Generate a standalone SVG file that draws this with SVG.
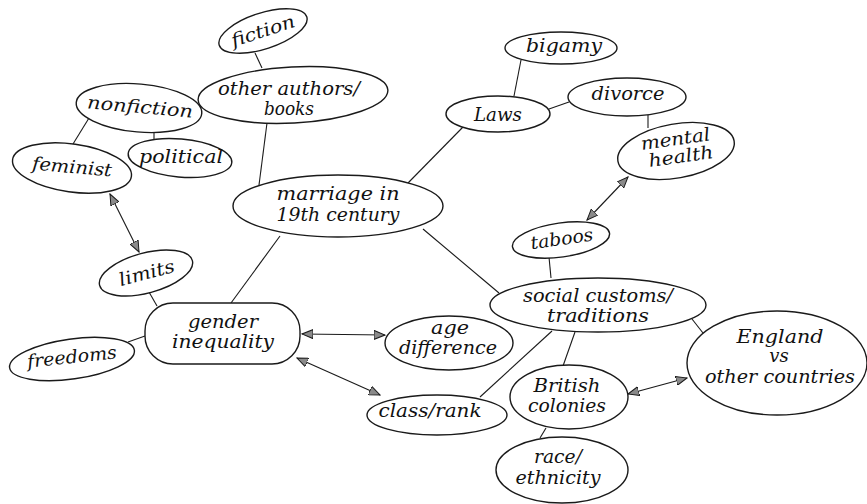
<svg xmlns="http://www.w3.org/2000/svg" width="867" height="504" viewBox="0 0 867 504">
<defs>
<style>
.n{fill:#fff;stroke:#1a1a1a;stroke-width:1.4}
.t{font-family:"DejaVu Serif","Liberation Serif",serif;font-style:italic;font-size:18px;fill:#111;text-anchor:middle}
.c{stroke:#1a1a1a;stroke-width:1.1;fill:none}
.a{marker-start:url(#ah);marker-end:url(#ah)}
</style>
<marker id="ah" viewBox="0 0 12 10" refX="11" refY="5" markerWidth="12" markerHeight="10" markerUnits="userSpaceOnUse" orient="auto-start-reverse">
<path d="M0,0.5 L11,5 L0,9.5 Z" fill="#8a8a8a" stroke="#1a1a1a" stroke-width="1"/>
</marker>
</defs>
<rect width="867" height="504" fill="#fff"/>
<g id="connectors">
<line class="c" x1="255" y1="53" x2="262" y2="68"/>
<line class="c" x1="267" y1="123" x2="259" y2="185"/>
<line class="c" x1="89" y1="118" x2="73" y2="144"/>
<line class="c" x1="154" y1="132" x2="154" y2="140"/>
<line class="c" x1="521" y1="60" x2="514" y2="96"/>
<line class="c" x1="549" y1="109" x2="569" y2="102"/>
<line class="c" x1="463" y1="127" x2="408" y2="183"/>
<line class="c" x1="648" y1="115" x2="648" y2="128"/>
<line class="c a" x1="587" y1="220" x2="628" y2="177"/>
<line class="c" x1="549" y1="257" x2="551" y2="278"/>
<line class="c" x1="423" y1="229" x2="499" y2="293"/>
<line class="c" x1="280" y1="236" x2="231" y2="303"/>
<line class="c a" x1="110" y1="194" x2="139" y2="252"/>
<line class="c" x1="149" y1="292" x2="157" y2="306"/>
<line class="c" x1="128" y1="342" x2="145" y2="336"/>
<line class="c a" x1="302" y1="334" x2="385" y2="335"/>
<line class="c a" x1="297" y1="358" x2="380" y2="395"/>
<line class="c" x1="552" y1="331" x2="480" y2="397"/>
<line class="c" x1="575" y1="332" x2="563" y2="366"/>
<line class="c" x1="546" y1="428" x2="540" y2="438"/>
<line class="c" x1="692" y1="319" x2="703" y2="333"/>
<line class="c a" x1="628" y1="394" x2="687" y2="378"/>
</g>
<g id="fiction">
<ellipse class="n" cx="263" cy="31" rx="46" ry="18" transform="rotate(-18 263 31)"/>
<text class="t" x="263" y="37" transform="rotate(-18 263 31)" textLength="66" lengthAdjust="spacingAndGlyphs">fiction</text>
</g>
<g id="other-authors">
<ellipse class="n" cx="293" cy="95" rx="95" ry="28" transform="rotate(-3 293 95)"/>
<text class="t" x="289" y="95" textLength="142" lengthAdjust="spacingAndGlyphs">other authors/</text>
<text class="t" x="289" y="115" textLength="50" lengthAdjust="spacingAndGlyphs">books</text>
</g>
<g id="nonfiction">
<ellipse class="n" cx="139" cy="108" rx="63" ry="24" transform="rotate(5 139 108)"/>
<text class="t" x="140" y="113" transform="rotate(5 140 108)" textLength="106" lengthAdjust="spacingAndGlyphs">nonfiction</text>
</g>
<g id="political">
<ellipse class="n" cx="180" cy="158" rx="52" ry="19" transform="rotate(5 180 158)"/>
<text class="t" x="181" y="163" textLength="84" lengthAdjust="spacingAndGlyphs">political</text>
</g>
<g id="feminist">
<ellipse class="n" cx="72" cy="168" rx="60" ry="24" transform="rotate(8 72 168)"/>
<text class="t" x="72" y="173" transform="rotate(5 72 168)" textLength="80" lengthAdjust="spacingAndGlyphs">feminist</text>
</g>
<g id="marriage">
<ellipse class="n" cx="338" cy="206" rx="105" ry="31"/>
<text class="t" x="338" y="200" textLength="123" lengthAdjust="spacingAndGlyphs">marriage in</text>
<text class="t" x="338" y="221" textLength="123" lengthAdjust="spacingAndGlyphs">19th century</text>
</g>
<g id="laws">
<ellipse class="n" cx="498" cy="114" rx="52" ry="18"/>
<text class="t" x="498" y="121" textLength="48" lengthAdjust="spacingAndGlyphs">Laws</text>
</g>
<g id="bigamy">
<ellipse class="n" cx="561" cy="48" rx="56" ry="16"/>
<text class="t" x="564" y="52" textLength="76" lengthAdjust="spacingAndGlyphs">bigamy</text>
</g>
<g id="divorce">
<ellipse class="n" cx="627" cy="97" rx="59" ry="19"/>
<text class="t" x="628" y="100" textLength="73" lengthAdjust="spacingAndGlyphs">divorce</text>
</g>
<g id="mental-health">
<ellipse class="n" cx="676" cy="151" rx="59" ry="27" transform="rotate(-10 676 151)"/>
<text class="t" x="677" y="145" transform="rotate(-8 677 150)" textLength="70" lengthAdjust="spacingAndGlyphs">mental</text>
<text class="t" x="680" y="163" transform="rotate(-8 677 150)" textLength="65" lengthAdjust="spacingAndGlyphs">health</text>
</g>
<g id="taboos">
<ellipse class="n" cx="561" cy="240" rx="49" ry="17" transform="rotate(-8 561 240)"/>
<text class="t" x="562" y="245" transform="rotate(-8 561 240)" textLength="63" lengthAdjust="spacingAndGlyphs">taboos</text>
</g>
<g id="social-customs">
<ellipse class="n" cx="598" cy="305" rx="108" ry="27"/>
<text class="t" x="598" y="302" textLength="150" lengthAdjust="spacingAndGlyphs">social customs/</text>
<text class="t" x="598" y="322" textLength="102" lengthAdjust="spacingAndGlyphs">traditions</text>
</g>
<g id="england">
<ellipse class="n" cx="777" cy="363" rx="90" ry="52"/>
<text class="t" x="780" y="343" textLength="87" lengthAdjust="spacingAndGlyphs">England</text>
<text class="t" x="779" y="362">vs</text>
<text class="t" x="780" y="383" textLength="150" lengthAdjust="spacingAndGlyphs">other countries</text>
</g>
<g id="british-colonies">
<ellipse class="n" cx="569" cy="397" rx="59" ry="32"/>
<text class="t" x="567" y="392" textLength="67" lengthAdjust="spacingAndGlyphs">British</text>
<text class="t" x="567" y="412" textLength="78" lengthAdjust="spacingAndGlyphs">colonies</text>
</g>
<g id="race-ethnicity">
<ellipse class="n" cx="562" cy="470" rx="66" ry="33"/>
<text class="t" x="558" y="463" textLength="48" lengthAdjust="spacingAndGlyphs">race/</text>
<text class="t" x="558" y="484" textLength="85" lengthAdjust="spacingAndGlyphs">ethnicity</text>
</g>
<g id="class-rank">
<ellipse class="n" cx="437" cy="415" rx="70" ry="20"/>
<text class="t" x="430" y="417" textLength="103" lengthAdjust="spacingAndGlyphs">class/rank</text>
</g>
<g id="age-difference">
<ellipse class="n" cx="449" cy="343" rx="64" ry="27"/>
<text class="t" x="450" y="334" textLength="38" lengthAdjust="spacingAndGlyphs">age</text>
<text class="t" x="448" y="354" textLength="98" lengthAdjust="spacingAndGlyphs">difference</text>
</g>
<g id="gender-inequality">
<rect class="n" x="145" y="303" width="155" height="61" rx="28" ry="28"/>
<text class="t" x="223" y="328" textLength="70" lengthAdjust="spacingAndGlyphs">gender</text>
<text class="t" x="223" y="348" textLength="102" lengthAdjust="spacingAndGlyphs">inequality</text>
</g>
<g id="limits">
<ellipse class="n" cx="146" cy="273" rx="48" ry="20" transform="rotate(-15 146 273)"/>
<text class="t" x="147" y="279" transform="rotate(-15 147 274)" textLength="57" lengthAdjust="spacingAndGlyphs">limits</text>
</g>
<g id="freedoms">
<ellipse class="n" cx="72" cy="359" rx="63" ry="20" transform="rotate(-8 72 359)"/>
<text class="t" x="72" y="363" transform="rotate(-6 72 358)" textLength="90" lengthAdjust="spacingAndGlyphs">freedoms</text>
</g>
</svg>
